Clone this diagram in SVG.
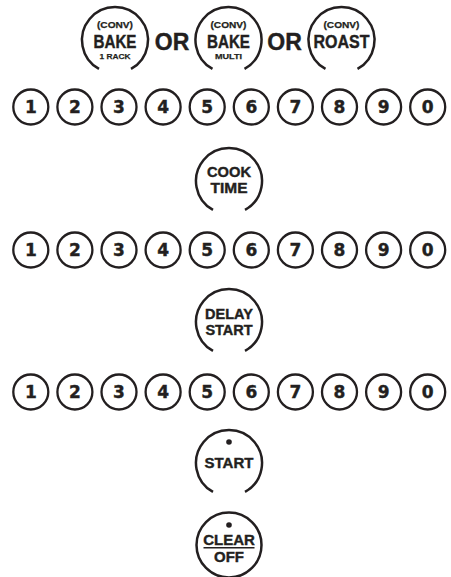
<svg xmlns="http://www.w3.org/2000/svg" xmlns:xlink="http://www.w3.org/1999/xlink" width="451" height="577" viewBox="0 0 451 577">
<defs>
<style>
.k{fill:none;stroke:#231f20;stroke-width:2.5;stroke-linecap:butt}
.n{fill:none;stroke:#231f20;stroke-width:2.3}
.t{font-family:"Liberation Sans",Arial,sans-serif;font-weight:bold;text-anchor:middle;fill:#231f20;stroke:#231f20;stroke-width:0.4}
.big{font-size:18px}
.sm{font-size:9.5px;stroke-width:0.25}
.xs{font-size:8px;stroke-width:0.25}
.mid{font-size:14.5px}
.lb{font-size:15px}
.dg{font-family:"DejaVu Sans","Liberation Sans",sans-serif;font-size:17px}
.or{font-size:23px}
.dot{fill:#231f20}
</style>
<path id="knob" class="k" d="M -16 28.9 A 33 33 0 1 1 16 28.9"/>
<circle id="num" class="n" r="17.5"/>
</defs>
<rect width="451" height="577" fill="#ffffff"/>

<g id="bake1rack" transform="translate(115,40)">
<use xlink:href="#knob"/>
<text class="t sm" y="-12" textLength="36" lengthAdjust="spacingAndGlyphs">(CONV)</text>
<text class="t big" y="8" textLength="43" lengthAdjust="spacingAndGlyphs">BAKE</text>
<text class="t xs" y="18.5" textLength="31" lengthAdjust="spacingAndGlyphs">1 RACK</text>
</g>
<text id="or1" class="t or" x="172" y="50">OR</text>
<g id="bakemulti" transform="translate(228.5,40)">
<use xlink:href="#knob"/>
<text class="t sm" y="-12" textLength="36" lengthAdjust="spacingAndGlyphs">(CONV)</text>
<text class="t big" y="8" textLength="43" lengthAdjust="spacingAndGlyphs">BAKE</text>
<text class="t xs" y="18.5" textLength="27" lengthAdjust="spacingAndGlyphs">MULTI</text>
</g>
<text id="or2" class="t or" x="284.5" y="50">OR</text>
<g id="roast" transform="translate(341.5,40)">
<use xlink:href="#knob"/>
<text class="t sm" y="-12" textLength="36" lengthAdjust="spacingAndGlyphs">(CONV)</text>
<text class="t big" y="8" textLength="56" lengthAdjust="spacingAndGlyphs">ROAST</text>
</g>

<g id="row1" transform="translate(0,107)">
<g id="r1k1" transform="translate(30.8,0)"><use xlink:href="#num"/><text class="t dg" y="6">1</text></g>
<g id="r1k2" transform="translate(74.9,0)"><use xlink:href="#num"/><text class="t dg" y="6">2</text></g>
<g id="r1k3" transform="translate(119,0)"><use xlink:href="#num"/><text class="t dg" y="6">3</text></g>
<g id="r1k4" transform="translate(163.1,0)"><use xlink:href="#num"/><text class="t dg" y="6">4</text></g>
<g id="r1k5" transform="translate(207.2,0)"><use xlink:href="#num"/><text class="t dg" y="6">5</text></g>
<g id="r1k6" transform="translate(251.3,0)"><use xlink:href="#num"/><text class="t dg" y="6">6</text></g>
<g id="r1k7" transform="translate(295.4,0)"><use xlink:href="#num"/><text class="t dg" y="6">7</text></g>
<g id="r1k8" transform="translate(339.5,0)"><use xlink:href="#num"/><text class="t dg" y="6">8</text></g>
<g id="r1k9" transform="translate(383.6,0)"><use xlink:href="#num"/><text class="t dg" y="6">9</text></g>
<g id="r1k0" transform="translate(427.7,0)"><use xlink:href="#num"/><text class="t dg" y="6">0</text></g>
</g>

<g id="cooktime" transform="translate(229,181)">
<use xlink:href="#knob"/>
<text class="t mid" y="-4" textLength="44" lengthAdjust="spacingAndGlyphs">COOK</text>
<text class="t mid" y="11.5" textLength="37" lengthAdjust="spacingAndGlyphs">TIME</text>
</g>

<g id="row2" transform="translate(0,250)">
<g id="r2k1" transform="translate(30.8,0)"><use xlink:href="#num"/><text class="t dg" y="6">1</text></g>
<g id="r2k2" transform="translate(74.9,0)"><use xlink:href="#num"/><text class="t dg" y="6">2</text></g>
<g id="r2k3" transform="translate(119,0)"><use xlink:href="#num"/><text class="t dg" y="6">3</text></g>
<g id="r2k4" transform="translate(163.1,0)"><use xlink:href="#num"/><text class="t dg" y="6">4</text></g>
<g id="r2k5" transform="translate(207.2,0)"><use xlink:href="#num"/><text class="t dg" y="6">5</text></g>
<g id="r2k6" transform="translate(251.3,0)"><use xlink:href="#num"/><text class="t dg" y="6">6</text></g>
<g id="r2k7" transform="translate(295.4,0)"><use xlink:href="#num"/><text class="t dg" y="6">7</text></g>
<g id="r2k8" transform="translate(339.5,0)"><use xlink:href="#num"/><text class="t dg" y="6">8</text></g>
<g id="r2k9" transform="translate(383.6,0)"><use xlink:href="#num"/><text class="t dg" y="6">9</text></g>
<g id="r2k0" transform="translate(427.7,0)"><use xlink:href="#num"/><text class="t dg" y="6">0</text></g>
</g>

<g id="delaystart" transform="translate(229,322)">
<use xlink:href="#knob"/>
<text class="t mid" y="-3">DELAY</text>
<text class="t mid" y="12.5">START</text>
</g>

<g id="row3" transform="translate(0,392)">
<g id="r3k1" transform="translate(30.8,0)"><use xlink:href="#num"/><text class="t dg" y="6">1</text></g>
<g id="r3k2" transform="translate(74.9,0)"><use xlink:href="#num"/><text class="t dg" y="6">2</text></g>
<g id="r3k3" transform="translate(119,0)"><use xlink:href="#num"/><text class="t dg" y="6">3</text></g>
<g id="r3k4" transform="translate(163.1,0)"><use xlink:href="#num"/><text class="t dg" y="6">4</text></g>
<g id="r3k5" transform="translate(207.2,0)"><use xlink:href="#num"/><text class="t dg" y="6">5</text></g>
<g id="r3k6" transform="translate(251.3,0)"><use xlink:href="#num"/><text class="t dg" y="6">6</text></g>
<g id="r3k7" transform="translate(295.4,0)"><use xlink:href="#num"/><text class="t dg" y="6">7</text></g>
<g id="r3k8" transform="translate(339.5,0)"><use xlink:href="#num"/><text class="t dg" y="6">8</text></g>
<g id="r3k9" transform="translate(383.6,0)"><use xlink:href="#num"/><text class="t dg" y="6">9</text></g>
<g id="r3k0" transform="translate(427.7,0)"><use xlink:href="#num"/><text class="t dg" y="6">0</text></g>
</g>

<g id="start" transform="translate(229,463)">
<use xlink:href="#knob"/>
<circle class="dot" cx="0" cy="-21" r="2.8"/>
<text class="t lb" y="5">START</text>
</g>

<g id="clearoff" transform="translate(229,545)">
<circle class="k" r="32.5"/>
<circle class="dot" cx="0" cy="-20" r="2.8"/>
<text class="t lb" y="0">CLEAR</text>
<line x1="-25.5" y1="2.8" x2="25.5" y2="2.8" stroke="#231f20" stroke-width="1.6"/>
<text class="t lb" y="16.7">OFF</text>
</g>
</svg>
